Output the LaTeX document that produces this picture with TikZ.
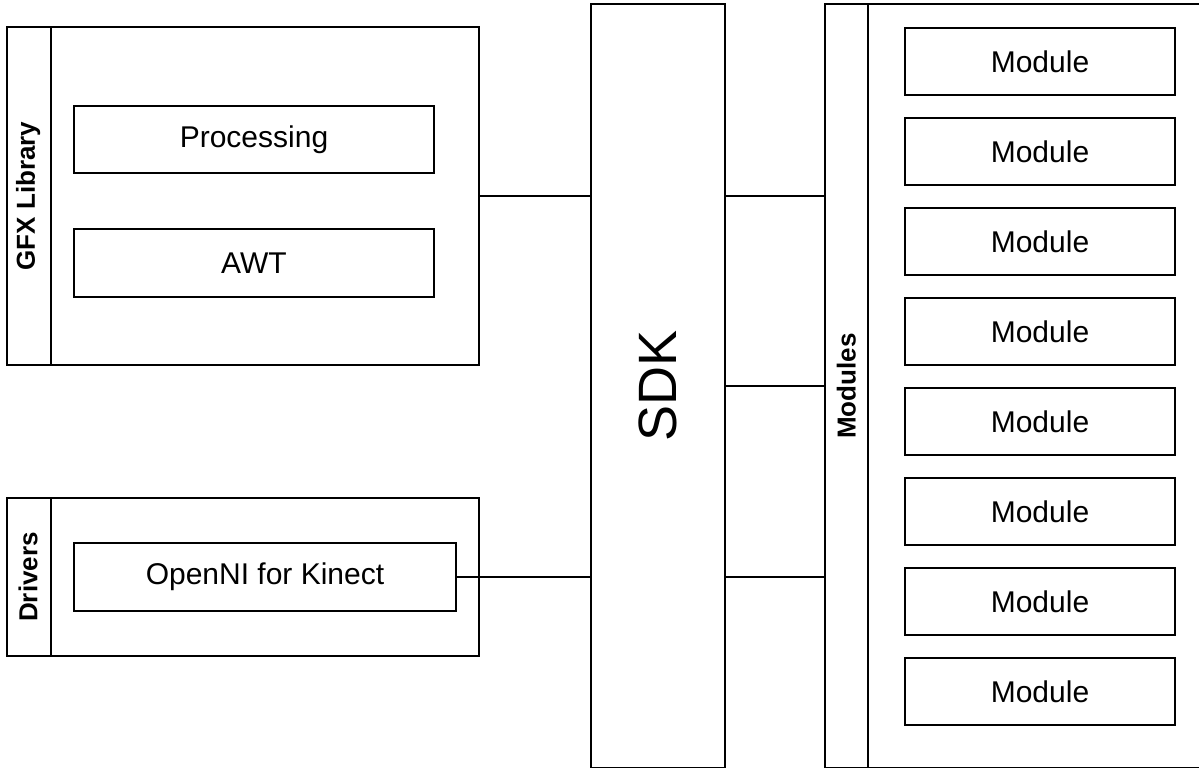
\documentclass[tikz,border=0pt]{standalone}
\usepackage{fontspec}
\setmainfont{Liberation Sans}
\usetikzlibrary{positioning}

\begin{document}
\begin{tikzpicture}[x=1pt,y=-1pt,line width=1.6pt,
    box/.style={draw,rectangle,inner sep=0pt,font=\fontsize{30}{36}\selectfont},
    sidelabel/.style={rotate=90,inner sep=0pt,font=\fontsize{26}{30}\selectfont\bfseries}]
  \clip (0,0) rectangle (1199,768);

  % left side: graphics and drivers
  \node[box,minimum width=472pt,minimum height=338pt] (gfx) at (243,196) {};
  \draw ([xshift=45pt]gfx.north west) -- ([xshift=45pt]gfx.south west);
  \node[sidelabel] (gfxlbl) at ([xshift=22pt]gfx.west) {GFX Library};
  \node[box,minimum width=360pt,minimum height=67pt] (proc) at (254,139.5) {Processing};
  \node[box,minimum width=360pt,minimum height=68pt] (awt) at (254,263) {AWT};

  \node[box,minimum width=472pt,minimum height=158pt] (drv) at (243,577) {};
  \draw ([xshift=45pt]drv.north west) -- ([xshift=45pt]drv.south west);
  \node[sidelabel] (drvlbl) at ([xshift=22pt]drv.west) {Drivers};
  \node[box,minimum width=382pt,minimum height=68pt] (openni) at (265,577) {OpenNI for Kinect};

  % middle
  \node[box,minimum width=134pt,minimum height=764pt] (sdk) at (658,386) {};
  \node[rotate=90,font=\fontsize{54}{60}\selectfont] (sdklbl) at (sdk.center) {SDK};

  % right side: modules
  \node[box,minimum width=385pt,minimum height=764pt] (mods) at (1017.5,386) {};
  \draw ([xshift=44pt]mods.north west) -- ([xshift=44pt]mods.south west);
  \node[sidelabel] (modslbl) at ([xshift=22pt]mods.west) {Modules};
  \foreach \i in {1,...,8}
    \node[box,minimum width=270pt,minimum height=67pt] (mod\i) at (1040,{-28.5+90*\i}) {Module};

  % connectors
  \draw (gfx.east) -- (gfx.east -| sdk.west);
  \draw (openni.east) -- (openni.east -| sdk.west);
  \draw (sdk.east |- gfx.east) -- (gfx.east -| mods.west);
  \draw (sdk.east) -- (mods.west);
  \draw (sdk.east |- openni.east) -- (openni.east -| mods.west);
\end{tikzpicture}
\end{document}
